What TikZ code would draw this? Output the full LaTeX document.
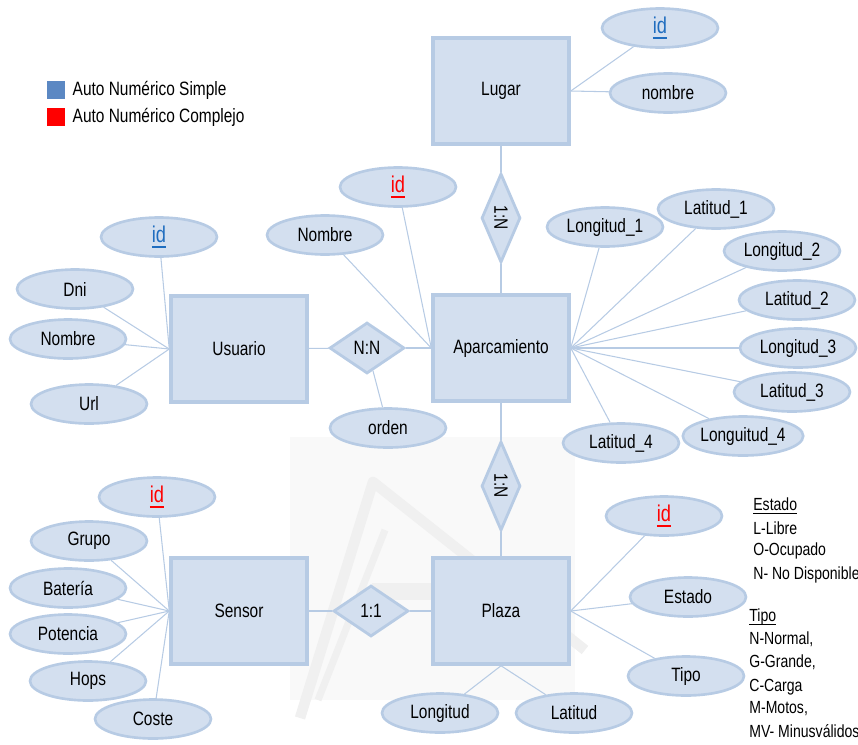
\documentclass[tikz,border=0pt]{standalone}
\usepackage{fontspec}
\setmainfont{Liberation Sans}[FakeStretch=0.8]
\usetikzlibrary{shapes.geometric, positioning}
\definecolor{erfill}{HTML}{D3DFEF}
\definecolor{erline}{HTML}{B7CBE4}
\definecolor{keyblue}{HTML}{1F6DBF}
\definecolor{legblue}{HTML}{5B88C3}
\definecolor{wmark}{HTML}{F0F0F0}
\newcommand{\keyid}[1]{{\fontsize{13}{15}\selectfont\textcolor{#1}{\setbox0\hbox{id}\rlap{\rule[-2.8pt]{\wd0}{1.2pt}}\box0}}}
\newcommand{\ulhead}[1]{\setbox0\hbox{#1}\rlap{\rule[-2pt]{\wd0}{0.5pt}}\box0}
\tikzstyle{entity} = [draw=erline, line width=2pt, rectangle, fill=erfill, minimum width=2.72cm, minimum height=2.12cm, font=\fontsize{11}{13}\selectfont]
\tikzstyle{attr} = [draw=erline, line width=1.5pt, ellipse, fill=erfill, minimum width=2.32cm, minimum height=0.78cm, inner sep=0pt, font=\fontsize{11}{13}\selectfont]
\tikzstyle{rel} = [draw=erline, line width=1.6pt, diamond, fill=erfill, aspect=1.46, minimum width=1.5cm, minimum height=1.02cm, inner sep=0pt, font=\fontsize{11}{13}\selectfont]
\tikzstyle{vrel} = [rel, rotate=-90, aspect=2.2, minimum width=1.78cm, minimum height=0.78cm]
\tikzstyle{link} = [draw=erline, line width=0.6pt]
\tikzstyle{note} = [anchor=west, inner sep=0pt, font=\fontsize{10}{12}\selectfont]
\begin{document}
\begin{tikzpicture}[x=0.02cm, y=-0.02cm]
    \useasboundingbox (0,0) rectangle (858,744);

    % faint logo behind the lower half
    \fill[wmark!40] (290,437) rectangle (575,700);
    \draw[wmark, line width=6pt, line join=round] (300,718) -- (373,482) -- (585,650);
    \draw[wmark, line width=4pt] (385,530) -- (318,700);
    \fill[wmark] (372,583) rectangle (432,600);

    % Entities
    \node (lugar) [entity] at (501,91) {Lugar};
    \node (apar) [entity] at (501,348) {Aparcamiento};
    \node (usuario) [entity] at (239,349) {Usuario};
    \node (sensor) [entity] at (239,611) {Sensor};
    \node (plaza) [entity] at (501,611) {Plaza};

    % Relations
    \node (rLA) [vrel] at (501,218) {1:N};
    \node (rAP) [vrel] at (501,486) {1:N};
    \node (rUA) [rel] at (367,348) {N:N};
    \node (rSP) [rel] at (371,611) {1:1};

    % Attributes
    \node (lId) [attr] at (660,28) {\keyid{keyblue}};
    \node (lNom) [attr] at (668,93) {nombre};

    \node (aId) [attr] at (398,187) {\keyid{red}};
    \node (aNom) [attr] at (325,235) {Nombre};
    \node (aLon1) [attr] at (605,227) {Longitud\_1};
    \node (aLat1) [attr] at (716,209) {Latitud\_1};
    \node (aLon2) [attr] at (782,251) {Longitud\_2};
    \node (aLat2) [attr] at (797,300) {Latitud\_2};
    \node (aLon3) [attr] at (798,348) {Longitud\_3};
    \node (aLat3) [attr] at (792,392) {Latitud\_3};
    \node (aLon4) [attr] at (743,436) {Longuitud\_4};
    \node (aLat4) [attr] at (621,443) {Latitud\_4};

    \node (orden) [attr] at (388,428) {orden};

    \node (uId) [attr] at (159,237) {\keyid{keyblue}};
    \node (uDni) [attr] at (75,289) {Dni};
    \node (uNom) [attr] at (68,339) {Nombre};
    \node (uUrl) [attr] at (89,404) {Url};

    \node (sId) [attr] at (157,497) {\keyid{red}};
    \node (sGru) [attr] at (89,541) {Grupo};
    \node (sBat) [attr] at (68,588) {Batería};
    \node (sPot) [attr] at (68,634) {Potencia};
    \node (sHop) [attr] at (88,681) {Hops};
    \node (sCos) [attr] at (153,719) {Coste};

    \node (pId) [attr] at (664,516) {\keyid{red}};
    \node (pEst) [attr] at (688,597) {Estado};
    \node (pTip) [attr] at (686,676) {Tipo};
    \node (pLon) [attr] at (440,713) {Longitud};
    \node (pLat) [attr] at (574,713) {Latitud};

    % Lines
    \draw [link] (lugar) -- (rLA);
    \draw [link] (rLA) -- (apar);
    \draw [link] (apar) -- (rAP);
    \draw [link] (rAP) -- (plaza);
    \draw [link] (usuario) -- (rUA);
    \draw [link] (rUA) -- (apar);
    \draw [link] (rUA) -- (orden);
    \draw [link] (sensor) -- (rSP);
    \draw [link] (rSP) -- (plaza);

    \draw [link] (lugar.east) -- (lId);
    \draw [link] (lugar.east) -- (lNom);
    \foreach \a in {aId, aNom}
        \draw [link] (apar.west) -- (\a);
    \foreach \a in {aLon1, aLat1, aLon2, aLat2, aLon3, aLat3, aLon4, aLat4}
        \draw [link] (apar.east) -- (\a);
    \foreach \a in {uId, uDni, uNom, uUrl}
        \draw [link] (usuario.west) -- (\a);
    \foreach \a in {sId, sGru, sBat, sPot, sHop, sCos}
        \draw [link] (sensor.west) -- (\a);
    \foreach \a in {pId, pEst, pTip}
        \draw [link] (plaza.east) -- (\a);
    \foreach \a in {pLon, pLat}
        \draw [link] (plaza.south) -- (\a);

    % Legend
    \node (kSimple) [fill=legblue, minimum size=0.36cm, inner sep=0pt] at (56,90) {};
    \node (kComplejo) [fill=red, minimum size=0.36cm, inner sep=0pt] at (56,117) {};
    \node [note, right=0.14cm of kSimple, font=\fontsize{11}{13}\selectfont] {Auto Numérico Simple};
    \node [note, right=0.14cm of kComplejo, font=\fontsize{11}{13}\selectfont] {Auto Numérico Complejo};

    % Values of Estado and Tipo
    \node (estado) [note] at (753,506) {\ulhead{Estado}};
    \node [note] at (753,528) {L-Libre};
    \node [note] at (753,551) {O-Ocupado};
    \node [note] at (753,575) {N- No Disponible};
    \node (tipo) [note] at (749,617) {\ulhead{Tipo}};
    \node [note] at (749,639) {N-Normal,};
    \node [note] at (749,662) {G-Grande,};
    \node [note] at (749,687) {C-Carga};
    \node [note] at (749,709) {M-Motos,};
    \node [note] at (749,731) {MV- Minusválidos};
\end{tikzpicture}
\end{document}
